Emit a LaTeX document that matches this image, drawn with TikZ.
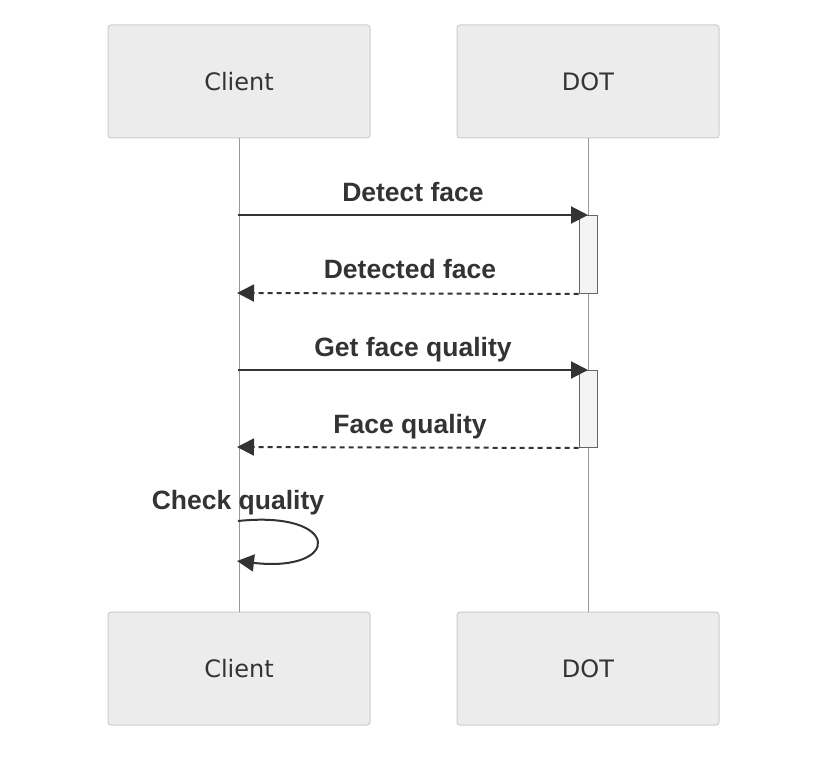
\documentclass[tikz,border=0pt]{standalone}
\usepackage{fontspec}
\setmainfont{DejaVu Sans}
\newfontfamily\msgfont{Liberation Sans}
\usetikzlibrary{arrows.meta}
\definecolor{txt}{HTML}{333333}
\definecolor{actorfill}{HTML}{ECECEC}
\definecolor{actorline}{HTML}{CCCCCC}
\definecolor{lifeline}{HTML}{999999}
\definecolor{actfill}{HTML}{F4F4F4}
\definecolor{actline}{HTML}{666666}
\tikzset{
  actor/.style={draw=actorline, fill=actorfill, rounded corners=3pt, line width=1pt,
    minimum width=262pt, minimum height=113pt, inner sep=0pt,
    text=txt, font=\fontsize{24}{28}\selectfont},
  life/.style={draw=lifeline, line width=0.8pt},
  activ/.style={draw=actline, fill=actfill, line width=1pt},
  msg/.style={draw=txt, line width=2pt, -{Triangle[length=17pt,width=17pt]}},
  ret/.style={msg, dash pattern=on 5pt off 4pt},
  lbl/.style={text=txt, font=\msgfont\bfseries\fontsize{26.5}{30}\selectfont, inner sep=0pt, anchor=base}
}
\begin{document}
\begin{tikzpicture}[x=1pt,y=-1pt]
\useasboundingbox (0,0) rectangle (838,765);
% actors
\node[actor] (c1) at (239,81.5) {Client};
\node[actor] (d1) at (588,81.5) {DOT};
\node[actor] (c2) at (239,668.5) {Client};
\node[actor] (d2) at (588,668.5) {DOT};
% lifelines
\draw[life] (c1.south) -- (c2.north);
\draw[life] (d1.south) -- (d2.north);
% activations
\node[activ, minimum width=18pt, minimum height=78pt, inner sep=0pt, anchor=north] (a1) at (588,215) {};
\node[activ, minimum width=18pt, minimum height=77pt, inner sep=0pt, anchor=north] (a2) at (588,370) {};
% coordinates
\coordinate (m1s) at (238,215);
\coordinate (m1e) at (588,215);
\coordinate (m2e) at (237,293);
\coordinate (m3s) at (238,370);
\coordinate (m3e) at (588,370);
\coordinate (m4e) at (237,447);
\coordinate (l1) at (238,521);
\coordinate (l2) at (237,561);
% messages
\draw[msg] (m1s) -- (m1e);
\node[lbl] at (413,201) {Detect face};
\draw[ret] (a1.south west) -- (m2e);
\node[lbl] at (410,278) {Detected face};
\draw[msg] (m3s) -- (m3e);
\node[lbl] at (413,356) {Get face quality};
\draw[ret] (a2.south west) -- (m4e);
\node[lbl] at (410,433) {Face quality};
\draw[msg] (l1) .. controls (342,510) and (342,573) .. (l2);
\node[lbl] at (238,509) {Check quality};
\end{tikzpicture}
\end{document}
